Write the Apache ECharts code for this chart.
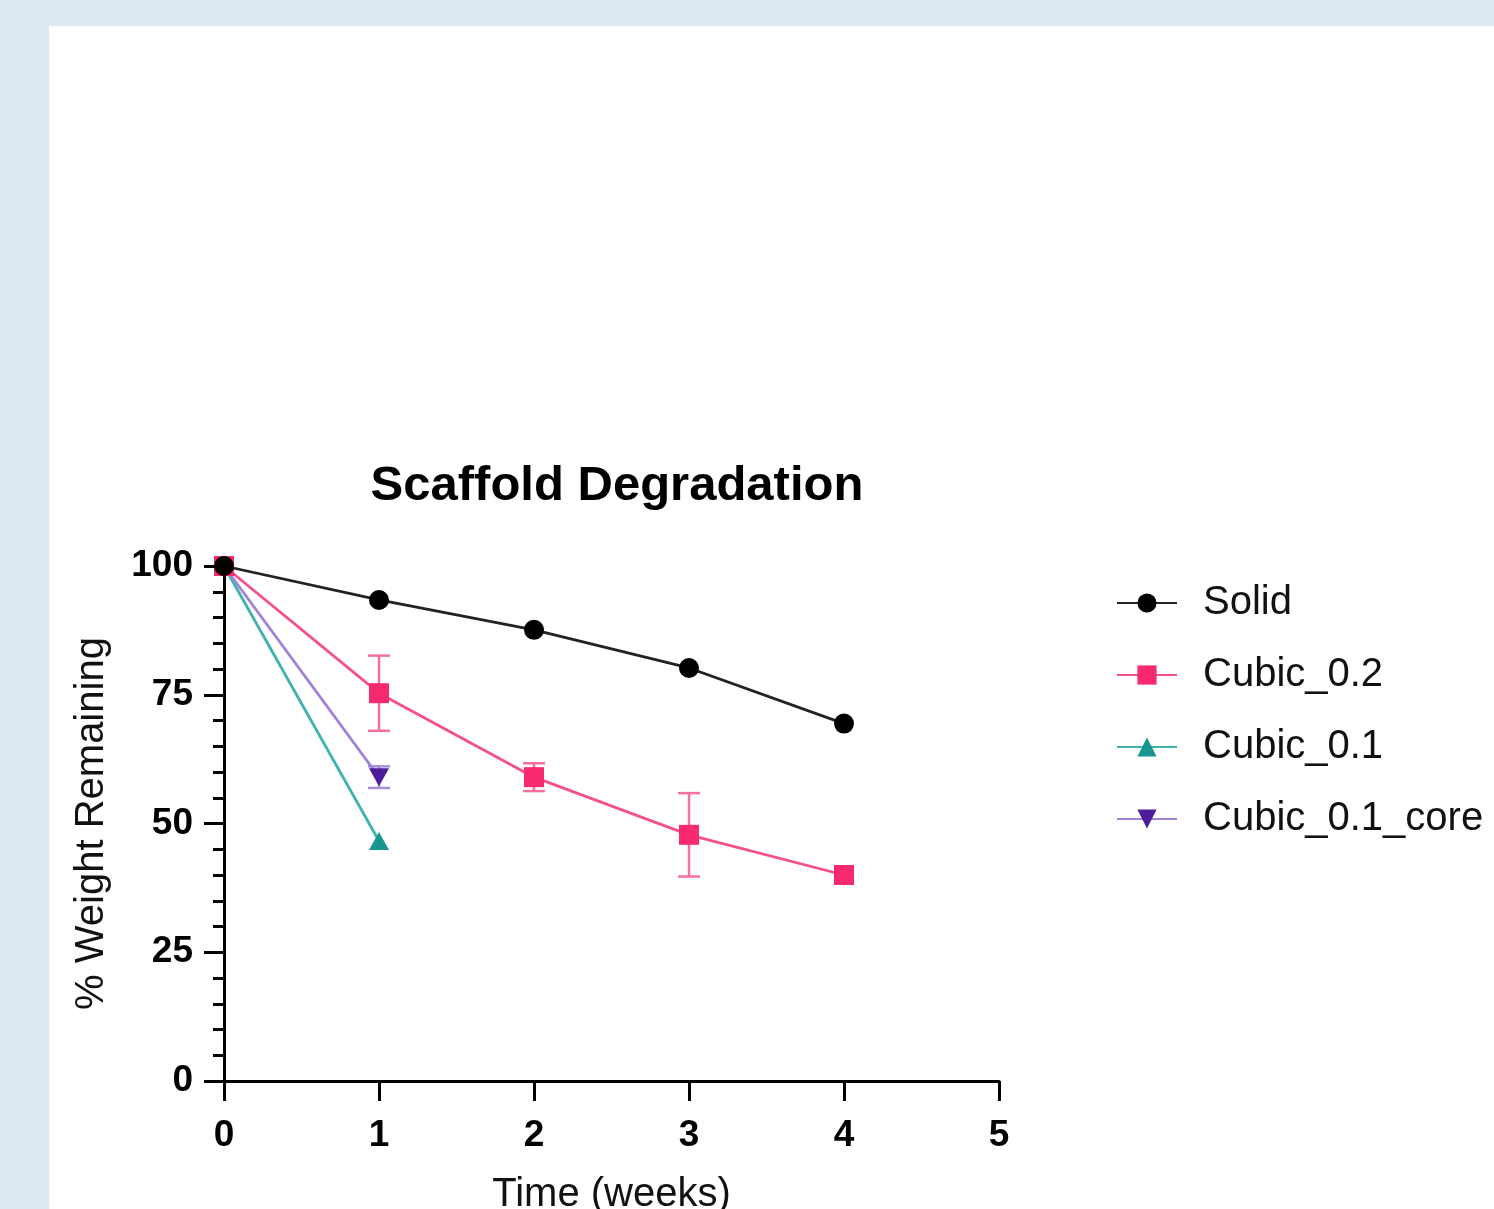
<!DOCTYPE html>
<html>
<head>
<meta charset="utf-8">
<script src="https://cdn.jsdelivr.net/npm/echarts@6/dist/echarts.min.js"></script>
<style>
html,body{margin:0;padding:0;background:#dfe9f2;width:1494px;height:1209px;overflow:hidden;}
#chart{position:absolute;left:49px;top:26px;width:1445px;height:1183px;background:#ffffff;}
</style>
</head>
<body>
<div id="chart"></div>
<script>
const weeks = [0, 1, 2, 3, 4];
const solid = [100, 93.4, 87.6, 80.2, 69.4];
const cubic02 = [100, 75.3, 59.0, 47.8, 40.0];
const cubic02Err = [0, 7.3, 2.7, 8.1, 0];
const cubic01 = [100, 46.6];
const cubic01core = [100, 59.0];
const cubic01coreErr = [0, 2.1];
const xTicks = [0, 1, 2, 3, 4, 5];
const yTicks = [0, 25, 50, 75, 100];

const FONT = '"Liberation Sans", Arial, Helvetica, sans-serif';
const pinkLine = '#f4508a', pinkMark = '#f72a70';
const tealLine = '#3fb3ae', tealMark = '#17958f';
const purpLine = '#a184d8', purpMark = '#4c1c9b';

function pairs(xs, ys) { return ys.map((v, i) => [xs[i], v]); }
function errData(xs, ys, es) { return ys.map((v, i) => [xs[i], v - es[i], v + es[i]]).filter((d, i) => es[i] > 0); }

function errSeries(data, color, z) {
  return {
    type: 'custom', z: z, silent: true, clip: false,
    data: data,
    encode: { x: 0, y: [1, 2] },
    renderItem: function (params, api) {
      const x = api.value(0);
      const lo = api.coord([x, api.value(1)]);
      const hi = api.coord([x, api.value(2)]);
      const hw = 11;
      const st = { stroke: color, lineWidth: 2.5 };
      return {
        type: 'group',
        children: [
          { type: 'line', shape: { x1: lo[0], y1: lo[1], x2: hi[0], y2: hi[1] }, style: st },
          { type: 'line', shape: { x1: lo[0] - hw, y1: lo[1], x2: lo[0] + hw, y2: lo[1] }, style: st },
          { type: 'line', shape: { x1: hi[0] - hw, y1: hi[1], x2: hi[0] + hw, y2: hi[1] }, style: st }
        ]
      };
    }
  };
}

const chart = echarts.init(document.getElementById('chart'), null, { renderer: 'canvas' });
chart.setOption({
  animation: false,
  backgroundColor: 'transparent',
  title: {
    text: 'Scaffold Degradation',
    left: 563, top: 431, textAlign: 'center',
    textStyle: { fontFamily: FONT, fontSize: 49, fontWeight: 'bold', color: '#000' }
  },
  legend: {
    orient: 'vertical', left: 1062, top: 552,
    itemWidth: 60, itemHeight: 24, itemGap: 32,
    textStyle: { fontFamily: FONT, fontSize: 40, color: '#111', padding: [0, 0, 0, 21] },
    data: ['Solid', 'Cubic_0.2', 'Cubic_0.1', 'Cubic_0.1_core']
  },
  grid: { left: 175, top: 540, width: 775, height: 515, containLabel: false, outerBoundsMode: 'none' },
  xAxis: {
    type: 'value', min: 0, max: 5, interval: 1,
    name: 'Time (weeks)', nameLocation: 'middle', nameGap: 94,
    nameTextStyle: { fontFamily: FONT, fontSize: 40, color: '#111' },
    axisLine: { show: true, onZero: false, lineStyle: { color: '#000', width: 3 } },
    axisTick: { show: true, length: 20, lineStyle: { color: '#000', width: 3 } },
    axisLabel: { margin: 36, fontFamily: FONT, fontSize: 37, fontWeight: 'bold', color: '#000',
      formatter: v => xTicks.includes(v) ? String(v) : '' },
    splitLine: { show: false }
  },
  yAxis: {
    type: 'value', min: 0, max: 100, interval: 25,
    name: '% Weight Remaining', nameLocation: 'middle', nameGap: 112,
    nameTextStyle: { fontFamily: FONT, fontSize: 40, color: '#111' },
    axisLine: { show: true, onZero: false, lineStyle: { color: '#000', width: 3 } },
    axisTick: { show: true, length: 20, lineStyle: { color: '#000', width: 3 } },
    minorTick: { show: true, splitNumber: 5, length: 11, lineStyle: { color: '#000', width: 3 } },
    axisLabel: { margin: 31, fontFamily: FONT, fontSize: 37, fontWeight: 'bold', color: '#000',
      formatter: v => yTicks.includes(v) ? String(v) : '' },
    splitLine: { show: false }
  },
  series: [
    errSeries(errData(weeks, cubic02, cubic02Err), '#f5709c', 3),
    errSeries(errData(weeks, cubic01core, cubic01coreErr), '#a88ddb', 3),
    {
      name: 'Cubic_0.1', type: 'line', z: 4, clip: false,
      data: pairs(weeks, cubic01),
      symbol: 'triangle', symbolSize: [20, 18],
      lineStyle: { color: tealLine, width: 2.8 },
      itemStyle: { color: tealMark }
    },
    {
      name: 'Cubic_0.1_core', type: 'line', z: 5, clip: false,
      data: pairs(weeks, cubic01core),
      symbol: 'triangle', symbolRotate: 180, symbolSize: [20, 18],
      lineStyle: { color: purpLine, width: 2.8 },
      itemStyle: { color: purpMark }
    },
    {
      name: 'Cubic_0.2', type: 'line', z: 6, clip: false,
      data: pairs(weeks, cubic02),
      symbol: 'rect', symbolSize: 20,
      lineStyle: { color: pinkLine, width: 2.8 },
      itemStyle: { color: pinkMark }
    },
    {
      name: 'Solid', type: 'line', z: 7, clip: false,
      data: pairs(weeks, solid),
      symbol: 'circle', symbolSize: 20,
      lineStyle: { color: '#222', width: 2.8 },
      itemStyle: { color: '#000' }
    }
  ]
});
</script>
</body>
</html>
